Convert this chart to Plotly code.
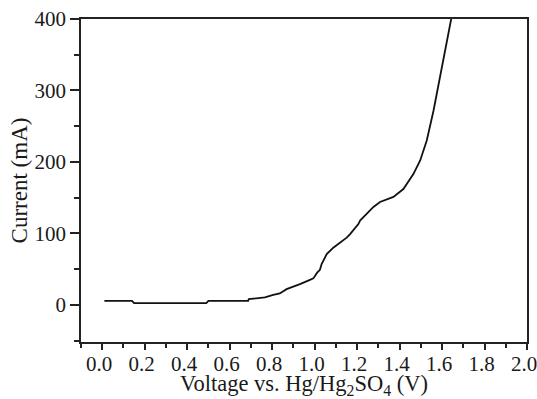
import plotly.graph_objects as go

voltage = [0.01, 0.14, 0.15, 0.30, 0.49, 0.50, 0.60, 0.687, 0.69, 0.766, 0.805, 0.836, 0.868,
           0.915, 0.931, 0.978, 0.994, 1.012, 1.025, 1.033, 1.049, 1.057, 1.088, 1.119, 1.151,
           1.167, 1.206, 1.214, 1.277, 1.308, 1.371, 1.418, 1.465, 1.497, 1.528, 1.560,
           1.591, 1.623, 1.643]
current = [5.6, 5.6, 2.4, 2.4, 2.4, 5.6, 5.6, 5.6, 8.0, 10.3, 14.0, 16.0, 22.0,
           27.0, 29.0, 35.0, 37.0, 45.0, 49.0, 57.0, 66.0, 71.0, 80.0, 87.0, 94.0,
           99.0, 113.0, 118.0, 137.0, 144.0, 151.0, 162.0, 183.0, 202.0, 230.0, 272.0,
           319.0, 366.0, 400.0]

x_ticks = [0.0, 0.2, 0.4, 0.6, 0.8, 1.0, 1.2, 1.4, 1.6, 1.8, 2.0]
x_labels = ["0.0", "0.2", "0.4", "0.6", "0.8", "1.0", "1.2", "1.4", "1.6", "1.8", "2.0"]
y_ticks = [0, 100, 200, 300, 400]

family = "Liberation Serif, Times New Roman, serif"
tick_font = dict(family=family, size=21, color="#1a1a1a")

fig = go.Figure()
fig.add_trace(go.Scatter(x=voltage, y=current, mode="lines", cliponaxis=False,
                         line=dict(color="#111", width=1.8), showlegend=False))

fig.update_layout(
    width=537, height=399,
    margin=dict(l=81, r=10, t=19, b=57, autoexpand=False),
    paper_bgcolor="white", plot_bgcolor="white",
    font=tick_font,
)
fig.update_xaxes(
    range=[-0.1, 2.0], tickvals=x_ticks, ticktext=x_labels,
    automargin=False, ticklabeloverflow="allow",
    ticklabelstandoff=-4, ticklabelshift=-3,
    showgrid=False, zeroline=False,
    showline=True, linecolor="#222", linewidth=1.5, mirror=True,
    ticks="outside", ticklen=6, tickwidth=1.5, tickcolor="#222",
    minor=dict(dtick=0.1, tick0=0, ticks="outside", ticklen=4, tickwidth=1.5, tickcolor="#222"),
    title=dict(text="Voltage vs. Hg/Hg<sub>2</sub>SO<sub>4</sub> (V)", standoff=0,
               font=dict(family=family, size=22.5, color="#1a1a1a")),
    tickfont=tick_font,
)
fig.update_yaxes(
    range=[-52, 400], tickvals=y_ticks,
    automargin=False, ticklabeloverflow="allow",
    showgrid=False, zeroline=False,
    showline=True, linecolor="#222", linewidth=1.5, mirror=True,
    ticks="outside", ticklen=9, tickwidth=1.5, tickcolor="#222",
    minor=dict(dtick=50, tick0=0, ticks="outside", ticklen=5, tickwidth=1.5, tickcolor="#222"),
    title=dict(text="Current (mA)", standoff=0,
               font=dict(family=family, size=23, color="#1a1a1a")),
    tickfont=tick_font,
)

fig.write_html("out.html",
               config={"displayModeBar": False},
               post_script="document.body.style.margin='0px';document.body.style.overflow='hidden';")
